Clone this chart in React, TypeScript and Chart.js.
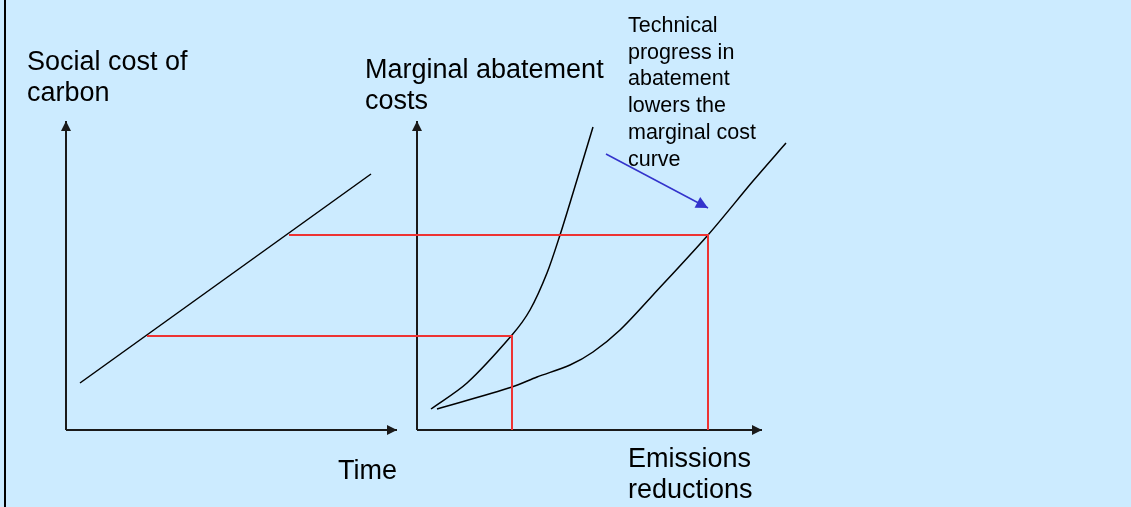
import React, { useEffect, useRef } from "react";
import { Chart, registerables } from "chart.js";

Chart.register(...registerables);

// Diagram coordinates (x to the right, y downward, in diagram units)
const frameLine = [{ x: 5, y: 0 }, { x: 5, y: 507 }];
const sccAxisY = [{ x: 66, y: 430 }, { x: 66, y: 121 }];
const sccAxisX = [{ x: 66, y: 430 }, { x: 397, y: 430 }];
const macAxisY = [{ x: 417, y: 430 }, { x: 417, y: 121 }];
const macAxisX = [{ x: 417, y: 430 }, { x: 762, y: 430 }];
const sccLine = [{ x: 80, y: 383 }, { x: 371, y: 174 }];
const macOld = [
  { x: 431, y: 409 }, { x: 467, y: 383 }, { x: 512, y: 335 }, { x: 530, y: 310 },
  { x: 547, y: 273 }, { x: 560, y: 235 }, { x: 573, y: 193 }, { x: 593, y: 127 },
];
const macNew = [
  { x: 437, y: 409 }, { x: 512, y: 387 }, { x: 537, y: 377 }, { x: 570, y: 365 },
  { x: 593, y: 352 }, { x: 620, y: 330 }, { x: 653, y: 295 }, { x: 708, y: 235 },
  { x: 753, y: 181 }, { x: 786, y: 143 },
];
const redLow = [{ x: 147, y: 336 }, { x: 512, y: 336 }, { x: 512, y: 430 }];
const redHigh = [{ x: 289, y: 235 }, { x: 708, y: 235 }, { x: 708, y: 430 }];
const blueArrow = [{ x: 606, y: 154 }, { x: 708, y: 208 }];

const labelsLeft = ["Social cost of", "carbon"];
const labelsRight = ["Marginal abatement", "costs"];
const labelTime = ["Time"];
const labelEmis = ["Emissions", "reductions"];
const labelNote = ["Technical", "progress in", "abatement", "lowers the", "marginal cost", "curve"];

export default function App() {
  const ref = useRef<HTMLCanvasElement>(null);
  useEffect(() => {
    const canvas = ref.current!;
    const line = (data: any[], color: string, width: number, tension = 0, arrow = 0) => ({
      type: "line" as const,
      data,
      borderColor: color,
      backgroundColor: color,
      borderWidth: width,
      pointRadius: 0,
      tension,
      fill: false,
      arrow,
    });
    const bgPlugin = {
      id: "bg",
      beforeDraw(chart: any) {
        const c = chart.ctx;
        c.save();
        c.fillStyle = "#CCEBFF";
        c.fillRect(0, 0, chart.width, chart.height);
        c.restore();
      },
    };
    const arrowPlugin = {
      id: "arrows",
      afterDatasetsDraw(chart: any) {
        const c = chart.ctx;
        const xs = chart.scales.x, ys = chart.scales.y;
        chart.data.datasets.forEach((ds: any) => {
          if (!ds.arrow) return;
          const n = ds.data.length;
          const p1 = ds.data[n - 2], p2 = ds.data[n - 1];
          const x1 = xs.getPixelForValue(p1.x), y1 = ys.getPixelForValue(p1.y);
          const x2 = xs.getPixelForValue(p2.x), y2 = ys.getPixelForValue(p2.y);
          const a = Math.atan2(y2 - y1, x2 - x1);
          const L = ds.arrow, W = ds.arrow * 0.5;
          c.save();
          c.fillStyle = ds.borderColor;
          c.beginPath();
          c.moveTo(x2, y2);
          c.lineTo(x2 - L * Math.cos(a) + W * Math.sin(a), y2 - L * Math.sin(a) - W * Math.cos(a));
          c.lineTo(x2 - L * Math.cos(a) - W * Math.sin(a), y2 - L * Math.sin(a) + W * Math.cos(a));
          c.closePath();
          c.fill();
          c.restore();
        });
      },
    };
    const textPlugin = {
      id: "texts",
      afterDraw(chart: any) {
        const c = chart.ctx;
        const xs = chart.scales.x, ys = chart.scales.y;
        const put = (lines: string[], x: number, y: number, size: number, lh: number) => {
          c.save();
          c.fillStyle = "#000";
          c.font = `${size}px "Liberation Sans", Arial, sans-serif`;
          c.textBaseline = "alphabetic";
          lines.forEach((t, i) => c.fillText(t, xs.getPixelForValue(x), ys.getPixelForValue(y + i * lh)));
          c.restore();
        };
        put(labelsLeft, 27, 70, 27, 31);
        put(labelsRight, 365, 78, 27, 31);
        put(labelTime, 338, 479, 27, 31);
        put(labelEmis, 628, 467, 27, 31);
        put(labelNote, 628, 32, 21.5, 26.7);
      },
    };
    const chart = new Chart(canvas, {
      type: "line",
      data: {
        datasets: [
          line(frameLine, "#000000", 2),
          line(redLow, "#EE3333", 2),
          line(redHigh, "#EE3333", 2),
          line(sccAxisY, "#1A1A1A", 2, 0, 10),
          line(sccAxisX, "#1A1A1A", 2, 0, 10),
          line(macAxisY, "#1A1A1A", 2, 0, 10),
          line(macAxisX, "#1A1A1A", 2, 0, 10),
          line(sccLine, "#000000", 1.5),
          line(macOld, "#000000", 1.5, 0.3),
          line(macNew, "#000000", 1.5, 0.3),
          line(blueArrow, "#3333CC", 1.5, 0, 12),
        ] as any,
      },
      options: {
        animation: false,
        responsive: false,
        maintainAspectRatio: false,
        layout: { padding: 0 },
        plugins: { legend: { display: false }, tooltip: { enabled: false } },
        scales: {
          x: { type: "linear", min: 0, max: 1131, display: false },
          y: { type: "linear", min: 0, max: 507, reverse: true, display: false },
        },
      },
      plugins: [bgPlugin, arrowPlugin, textPlugin],
    });
    return () => chart.destroy();
  }, []);
  return (
    <div style={{ position: "fixed", left: 0, top: 0, width: 1131, height: 507 }}>
      <canvas ref={ref} width={1131} height={507} style={{ display: "block" }} />
    </div>
  );
}
